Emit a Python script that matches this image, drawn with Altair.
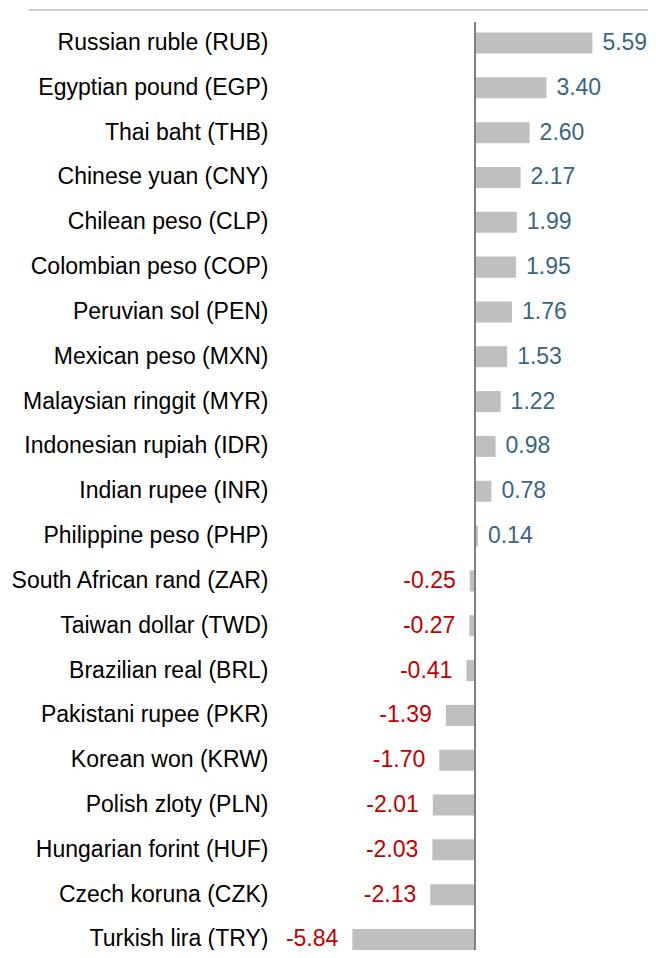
import altair as alt
import pandas as pd

currencies = [
    "Russian ruble (RUB)", "Egyptian pound (EGP)", "Thai baht (THB)",
    "Chinese yuan (CNY)", "Chilean peso (CLP)", "Colombian peso (COP)",
    "Peruvian sol (PEN)", "Mexican peso (MXN)", "Malaysian ringgit (MYR)",
    "Indonesian rupiah (IDR)", "Indian rupee (INR)", "Philippine peso (PHP)",
    "South African rand (ZAR)", "Taiwan dollar (TWD)", "Brazilian real (BRL)",
    "Pakistani rupee (PKR)", "Korean won (KRW)", "Polish zloty (PLN)",
    "Hungarian forint (HUF)", "Czech koruna (CZK)", "Turkish lira (TRY)",
]
values = [
    5.59, 3.40, 2.60, 2.17, 1.99, 1.95, 1.76, 1.53, 1.22, 0.98, 0.78, 0.14,
    -0.25, -0.27, -0.41, -1.39, -1.70, -2.01, -2.03, -2.13, -5.84,
]

df = pd.DataFrame({"currency": currencies, "value": values})
df["label"] = [f"{v:.2f}" for v in values]

FONT = "Liberation Sans"
W, H = 370, 928

xscale = alt.Scale(domain=[-9.381, 8.238], nice=False, zero=False)
yscale = alt.Scale(domain=currencies, range=[10.5, 928.0], paddingInner=0.5315, paddingOuter=0)

base = alt.Chart(df)

bars = base.mark_bar(color="#bfbfbf").encode(
    x=alt.X("value:Q", scale=xscale, axis=None),
    y=alt.Y(
        "currency:N",
        scale=yscale,
        sort=currencies,
        axis=alt.Axis(
            title=None, domain=False, ticks=False, grid=False,
            labelFont=FONT, labelFontSize=23, labelColor="#000000",
            labelPadding=10, labelLimit=500,
        ),
    ),
)

pos_text = base.transform_filter("datum.value >= 0").mark_text(
    align="left", baseline="middle", dx=10, font=FONT, fontSize=23, color="#3b6582"
).encode(
    x=alt.X("value:Q", scale=xscale),
    y=alt.Y("currency:N", scale=yscale, sort=currencies),
    text="label:N",
)

neg_text = base.transform_filter("datum.value < 0").mark_text(
    align="right", baseline="middle", dx=-14, font=FONT, fontSize=23, color="#c00000"
).encode(
    x=alt.X("value:Q", scale=xscale),
    y=alt.Y("currency:N", scale=yscale, sort=currencies),
    text="label:N",
)

zero_line = alt.Chart(pd.DataFrame({"z": [0]})).mark_rule(
    color="#808080", strokeWidth=2
).encode(
    x=alt.X("z:Q", scale=xscale),
    y=alt.value(0),
    y2=alt.value(H),
)

top_line = alt.Chart(pd.DataFrame({"z": [0]})).mark_rule(
    color="#bfbfbf", strokeWidth=1.5
).encode(
    x=alt.value(-249),
    x2=alt.value(W),
    y=alt.value(-12),
)

chart = alt.layer(bars, pos_text, neg_text, zero_line, top_line).properties(
    width=W,
    height=H,
    autosize=alt.AutoSizeParams(type="none"),
    padding={"left": 270, "top": 14, "right": 0, "bottom": 0},
).configure_view(strokeWidth=0)

chart.save("out.html", embed_options={"renderer": "svg", "actions": False})
